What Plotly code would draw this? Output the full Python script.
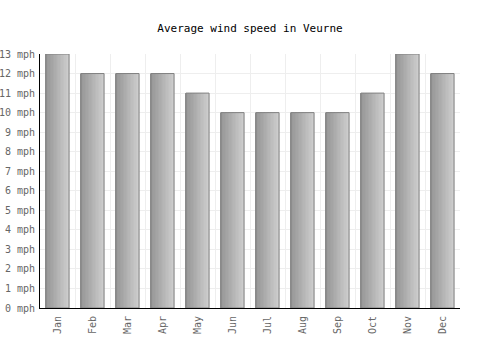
import plotly.graph_objects as go

months = ["Jan", "Feb", "Mar", "Apr", "May", "Jun", "Jul", "Aug", "Sep", "Oct", "Nov", "Dec"]
wind_mph = [13, 12, 12, 12, 11, 10, 10, 10, 10, 11, 13, 12]
y_ticks = list(range(0, 14))
y_labels = [f"{v} mph" for v in y_ticks]

fig = go.Figure()

bar_w = 0.66
n = 16
c0 = (0x96, 0x96, 0x96)
c1 = (0xcc, 0xcc, 0xcc)
for i in range(n):
    t = i / (n - 1)
    col = tuple(int(round(c0[k] + (c1[k] - c0[k]) * t)) for k in range(3))
    fig.add_trace(go.Bar(
        x=months, y=wind_mph,
        width=bar_w / n + 0.005,
        offset=-bar_w / 2 + i * bar_w / n,
        marker=dict(color=f"rgb{col}", line=dict(width=0)),
        hoverinfo="skip", showlegend=False,
    ))
fig.add_trace(go.Bar(
    x=months, y=wind_mph, width=bar_w, offset=-bar_w / 2,
    marker=dict(color="rgba(0,0,0,0)", line=dict(color="#808080", width=1)),
    showlegend=False,
))

fig.update_layout(
    width=500, height=350,
    barmode="overlay",
    margin=dict(l=40, r=40, t=54, b=42, autoexpand=False),
    paper_bgcolor="white", plot_bgcolor="white",
    font=dict(family="DejaVu Sans Mono", size=10, color="#666666"),
    title=dict(text="Average wind speed in Veurne", x=0.5, xanchor="center",
               y=1 - 28 / 350, yanchor="middle",
               font=dict(family="DejaVu Sans Mono", size=11, color="#000000")),
    xaxis=dict(type="category", tickson="boundaries", showgrid=True, gridcolor="#eeeeee",
               tickangle=-90, ticks="", showline=True, linecolor="#000000", linewidth=1,
               automargin=False, ticklabelstandoff=3,
               tickfont=dict(size=10, color="#666666"), range=[-0.5, 11.5]),
    yaxis=dict(range=[0, 13], tickvals=y_ticks, ticktext=y_labels, showgrid=True,
               gridcolor="#eeeeee", showline=True, linecolor="#000000", linewidth=1,
               ticks="", zeroline=False, automargin=False, ticklabelstandoff=2,
               tickfont=dict(size=10, color="#666666")),
)

fig.write_html("out.html")
